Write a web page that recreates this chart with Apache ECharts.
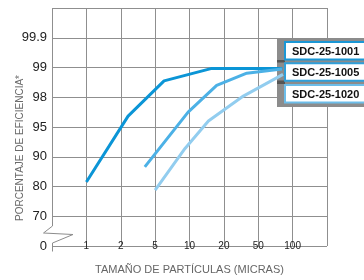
<!DOCTYPE html>
<html>
<head>
<meta charset="utf-8">
<script src="https://cdn.jsdelivr.net/npm/echarts@6/dist/echarts.min.js"></script>
<style>
  html, body { margin: 0; padding: 0; background: #fff; }
  #chart { width: 364px; height: 280px; }
</style>
</head>
<body>
<div id="chart"></div>
<script>
// tick labels of the two (non linear) axes
var sizeTicks = [1, 2, 5, 10, 20, 50, 100];        // micras, at positions 1..7
var effTicks = [0, 70, 80, 90, 95, 98, 99, 99.9];   // %, at positions 0..7

var seriesNames = ['SDC-25-1001', 'SDC-25-1005', 'SDC-25-1020'];
var colors = ['#0b95d6', '#4cb1e6', '#92cdef'];
var boxColors = ['#1b97d5', '#2f9fd9', '#6cbde9'];

// particle size (micras) / efficiency (%)
var size1001 = [1, 2.64, 6.3, 16.5, 85];
var eff1001 = [81.5, 96.1, 98.55, 98.97, 98.97];
var size1005 = [4.1, 9.8, 17.9, 40, 84.5];
var eff1005 = [86.6, 96.5, 98.4, 98.81, 98.95];
var size1020 = [5, 9.35, 15.5, 37, 86];
var eff1020 = [78.8, 91.4, 95.6, 98.04, 98.77];

// piecewise scale: value -> axis position between the labelled ticks
function toPos(v, ticks, start) {
    for (var i = 0; i < ticks.length - 1; i++) {
        if (v <= ticks[i + 1]) {
            return start + i + (v - ticks[i]) / (ticks[i + 1] - ticks[i]);
        }
    }
    return start + ticks.length - 1;
}
function build(sizes, effs) {
    return sizes.map(function (s, i) {
        return [toPos(s, sizeTicks, 1), toPos(effs[i], effTicks, 0)];
    });
}
var lines = [build(size1001, eff1001), build(size1005, eff1005), build(size1020, eff1020)];

var myChart = echarts.init(document.getElementById('chart'));

var graphics = [
    // white gap in the left border + break mark
    { type: 'rect', z: 1, shape: { x: 48, y: 226, width: 8, height: 17 }, style: { fill: '#fff' } },
    { type: 'polyline', z: 3, shape: { points: [[52.5, 222], [52.5, 226], [43.5, 233], [73, 234.5], [52.5, 243], [52.5, 251.5]] },
      style: { stroke: '#8c8c8c', lineWidth: 1, fill: null } },
    // label panel
    { type: 'rect', z: 1, shape: { x: 277, y: 38, width: 90, height: 69 }, style: { fill: '#8c8c8c' } },
    { type: 'rect', z: 1, shape: { x: 277, y: 60, width: 8, height: 2.5 }, style: { fill: '#555' } },
    { type: 'rect', z: 1, shape: { x: 277, y: 80.5, width: 8, height: 3.5 }, style: { fill: '#555' } },
    { type: 'text', z: 20, x: 20, y: 148, rotation: Math.PI / 2,
      style: { text: 'PORCENTAJE DE EFICIENCIA*', fill: '#6a6a6a', font: '10px "Liberation Sans"', align: 'center', verticalAlign: 'middle' } }
];
var boxTop = [42, 63.3, 85];
seriesNames.forEach(function (name, i) {
    graphics.push({ type: 'rect', z: 10, shape: { x: 285, y: boxTop[i], width: 100, height: 17.5 },
        style: { fill: '#fff', stroke: boxColors[i], lineWidth: 2 } });
    graphics.push({ type: 'text', z: 11, x: 292, y: boxTop[i] + 10,
        style: { text: name, fill: '#111', font: 'bold 11px "Liberation Sans"', verticalAlign: 'middle' } });
});

var option = {
    animation: false,
    grid: { left: 52, right: 37, top: 8, bottom: 28 },
    xAxis: {
        type: 'value', min: 0, max: 8, interval: 1,
        name: 'TAMAÑO DE PARTÍCULAS (MICRAS)', nameLocation: 'middle', nameGap: 18,
        nameTextStyle: { color: '#666', fontSize: 11, fontFamily: 'Liberation Sans' },
        axisLine: { show: false }, axisTick: { show: false },
        axisLabel: {
            color: '#222', fontSize: 10, fontFamily: 'Liberation Sans', margin: 0, verticalAlign: 'middle',
            formatter: function (v) { return sizeTicks[v - 1] !== undefined ? String(sizeTicks[v - 1]) : ''; }
        },
        splitLine: { show: true, showMinLine: true, showMaxLine: true, lineStyle: { color: '#8f8f8f', width: 1 } }
    },
    yAxis: {
        type: 'value', min: 0, max: 8, interval: 1,
        axisLine: { show: false }, axisTick: { show: false },
        axisLabel: {
            color: '#222', fontSize: 13, fontFamily: 'Liberation Sans', margin: 5, padding: [4, 0, 0, 0],
            formatter: function (v) { return effTicks[v] !== undefined ? String(effTicks[v]) : ''; }
        },
        splitLine: { show: true, showMinLine: true, showMaxLine: true, lineStyle: { color: '#8f8f8f', width: 1 } }
    },
    series: lines.map(function (d, i) {
        return { name: seriesNames[i], type: 'line', data: d, symbol: 'none', z: 2,
                 lineStyle: { color: colors[i], width: 3 } };
    }),
    graphic: graphics
};
myChart.setOption(option);
</script>
</body>
</html>
